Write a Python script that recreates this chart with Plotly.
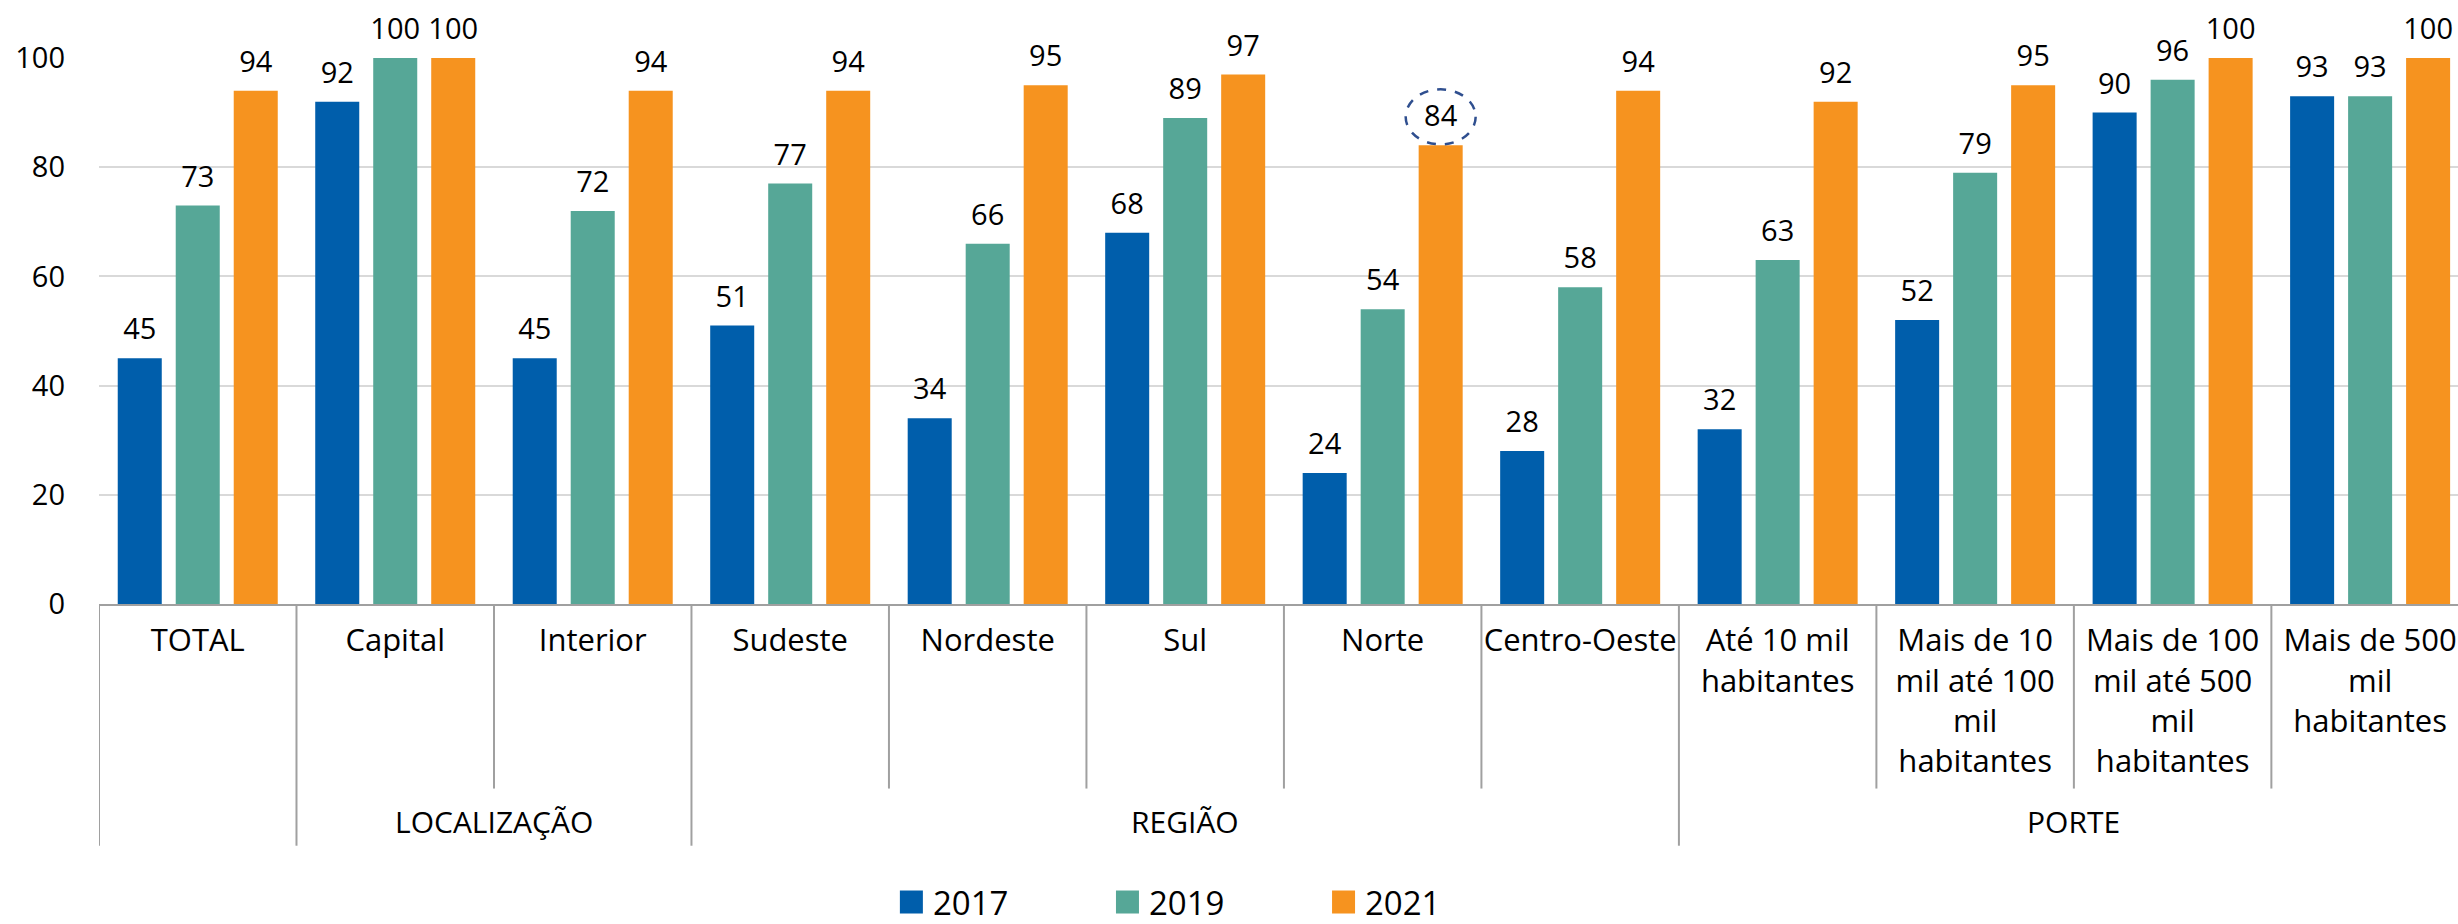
import plotly.graph_objects as go

categories = ["TOTAL", "Capital", "Interior", "Sudeste", "Nordeste", "Sul", "Norte",
              "Centro-Oeste", "Até 10 mil<br>habitantes",
              "Mais de 10<br>mil até 100<br>mil<br>habitantes",
              "Mais de 100<br>mil até 500<br>mil<br>habitantes",
              "Mais de 500<br>mil<br>habitantes"]
groups = ["", "LOCALIZAÇÃO", "LOCALIZAÇÃO", "REGIÃO", "REGIÃO", "REGIÃO", "REGIÃO",
          "REGIÃO", "PORTE", "PORTE", "PORTE", "PORTE"]
series_names = ["2017", "2019", "2021"]
v2017 = [45, 92, 45, 51, 34, 68, 24, 28, 32, 52, 90, 93]
v2019 = [73, 100, 72, 77, 66, 89, 54, 58, 63, 79, 96, 93]
v2021 = [94, 100, 94, 94, 95, 97, 84, 94, 92, 95, 100, 100]
highlight = ("Norte", "2021")
y_ticks = [0, 20, 40, 60, 80, 100]

colors = ["#005EAB", "#56A797", "#F6931F"]
FONT = "Open Sans, Noto Sans, sans-serif"
BARGAP = 0.119
series = [v2017, v2019, v2021]
idx = list(range(len(categories)))

fig = go.Figure()
for name, vals, col in zip(series_names, series, colors):
    fig.add_trace(go.Bar(x=idx, y=vals, name=name, marker_color=col,
                         marker_line_width=0, offsetgroup=name, showlegend=False))
for name, vals in zip(series_names, series):
    fig.add_trace(go.Scatter(x=idx, y=vals, mode="markers+text", text=[str(v) for v in vals],
                             textposition="top center", offsetgroup=name,
                             marker=dict(size=17, opacity=0), cliponaxis=False,
                             textfont=dict(size=29, color="#000000", family=FONT),
                             showlegend=False, hoverinfo="skip"))

# divider lines under the axis
shapes = []
for b in range(len(categories) + 1):
    left = groups[b - 1] if b > 0 else None
    right = groups[b] if b < len(groups) else None
    long_line = (b == 0 or b == len(groups) or left != right or left == "")
    shapes.append(dict(type="line", xref="x", yref="paper", x0=b - 0.5, x1=b - 0.5,
                       y0=0, y1=-0.4427 if long_line else -0.338,
                       line=dict(color="#A0A0A0", width=2)))

# highlight ellipse around the Norte 2021 label
slot = (1 - BARGAP) / len(series_names)
hi_cat = categories.index(highlight[0])
hi_ser = series_names.index(highlight[1])
shapes.append(dict(type="circle", xref="x", yref="y", xsizemode="pixel", ysizemode="pixel",
                   xanchor=hi_cat + (hi_ser - 1) * slot, yanchor=series[hi_ser][hi_cat],
                   x0=-35, x1=35, y0=1, y1=56,
                   line=dict(color="#2F4F8F", width=2.5, dash="dash")))

annotations = []
seen = []
for g in groups:
    if g and g not in seen:
        seen.append(g)
for g in seen:
    members = [i for i, gg in enumerate(groups) if gg == g]
    annotations.append(dict(x=(members[0] + members[-1]) / 2, y=-0.3987, xref="x", yref="paper",
                            text=g, showarrow=False, yanchor="middle",
                            font=dict(size=30, color="#000000", family=FONT)))

# legend (manual, for large square swatches)
leg_x0 = 0.3395
leg_step = 0.0916
leg_y = -0.5458
for k, (name, col) in enumerate(zip(series_names, colors)):
    shapes.append(dict(type="rect", xref="paper", yref="paper", xsizemode="pixel",
                       ysizemode="pixel", xanchor=leg_x0 + k * leg_step, yanchor=leg_y,
                       x0=0, x1=23, y0=-11.5, y1=11.5, fillcolor=col, line=dict(width=0)))
    annotations.append(dict(x=leg_x0 + k * leg_step, y=leg_y, xref="paper", yref="paper",
                            xshift=31, xanchor="left", yanchor="middle", text=name,
                            showarrow=False, font=dict(size=33, color="#000000", family=FONT)))

fig.update_layout(
    width=2458, height=924,
    margin=dict(l=99, r=0, t=58, b=320, pad=0),
    paper_bgcolor="white", plot_bgcolor="white",
    barmode="group", bargap=BARGAP, bargroupgap=0.241,
    scattermode="group", scattergap=BARGAP,
    shapes=shapes, annotations=annotations,
    font=dict(family=FONT, color="#000000"),
    xaxis=dict(tickvals=idx, ticktext=categories, range=[-0.5, 11.445],
               showline=True, linecolor="#A0A0A0", linewidth=2, showgrid=False,
               ticks="", ticklabelstandoff=8,
               tickfont=dict(size=31, color="#000000"), zeroline=False),
    yaxis=dict(range=[0, 100], tickvals=y_ticks, showgrid=True, gridcolor="#D9D9D9",
               gridwidth=2, zeroline=False, showline=False, ticks="",
               ticklabelstandoff=33, tickfont=dict(size=29, color="#000000")),
)

fig.write_html("out.html", config={"displayModeBar": False},
               post_script="document.body.style.margin='0';")
